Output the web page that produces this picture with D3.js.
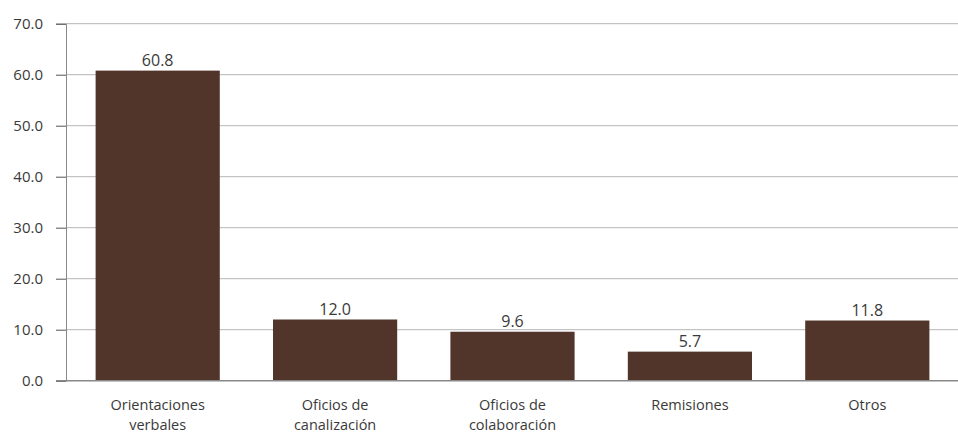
<!DOCTYPE html>
<html>
<head>
<meta charset="utf-8">
<script src="https://cdn.jsdelivr.net/npm/d3@7"></script>
<style>
  body { margin: 0; background: #fff; }
  text { font-family: "Open Sans", sans-serif; fill: #3a3a3a; }
</style>
</head>
<body>
<div id="chart"></div>
<script>
const categories = [["Orientaciones", "verbales"], ["Oficios de", "canalización"], ["Oficios de", "colaboración"], ["Remisiones"], ["Otros"]];
const values = [60.8, 12.0, 9.6, 5.7, 11.8];
const yTicks = [0, 10, 20, 30, 40, 50, 60, 70];

const WIDTH = 958, HEIGHT = 435;
const svg = d3.select('#chart').append('svg').attr('width', WIDTH).attr('height', HEIGHT);

const keys = categories.map((c, i) => i);
const x = d3.scaleBand().domain(keys).range([69, 956]).paddingInner(0.3).paddingOuter(0.15);
const y = d3.scaleLinear().domain([0, 70]).range([380.7, 23.7]);

// gridlines
svg.append('g').selectAll('line').data(yTicks.filter(d => d > 0)).join('line')
  .attr('x1', 66).attr('x2', 958)
  .attr('y1', d => y(d)).attr('y2', d => y(d))
  .attr('stroke', '#b5b5b5').attr('stroke-width', 1);

// y axis
const yAxis = d3.axisLeft(y).tickValues(yTicks).tickFormat(d3.format('.1f')).tickSize(10).tickPadding(13);
const yg = svg.append('g').attr('transform', 'translate(66,0)').call(yAxis);
yg.select('.domain').attr('stroke', '#888');
yg.selectAll('.tick line').attr('stroke', '#555');
yg.selectAll('.tick text').style('font-size', '15px').attr('fill', '#3a3a3a');

// bars
svg.append('g').selectAll('rect').data(values).join('rect')
  .attr('x', (d, i) => x(i)).attr('width', x.bandwidth())
  .attr('y', d => y(d)).attr('height', d => y(0) - y(d))
  .attr('fill', '#51342a');

// baseline
svg.append('line').attr('x1', 56).attr('x2', 958)
  .attr('y1', y(0)).attr('y2', y(0)).attr('stroke', '#888').attr('stroke-width', 1.5);

// value labels
svg.append('g').selectAll('text').data(values).join('text')
  .attr('x', (d, i) => x(i) + x.bandwidth() / 2)
  .attr('y', d => y(d) - 5)
  .attr('text-anchor', 'middle').style('font-size', '16px')
  .text(d => d.toFixed(1));

// category labels
const cl = svg.append('g').selectAll('text').data(categories).join('text')
  .attr('x', (d, i) => x(i) + x.bandwidth() / 2)
  .attr('y', 410)
  .attr('text-anchor', 'middle').style('font-size', '14.5px');
cl.selectAll('tspan').data(d => d).join('tspan')
  .attr('x', function() { return this.parentNode.getAttribute('x'); })
  .attr('dy', (d, i) => i === 0 ? 0 : 19.5)
  .text(d => d);
</script>
</body>
</html>
